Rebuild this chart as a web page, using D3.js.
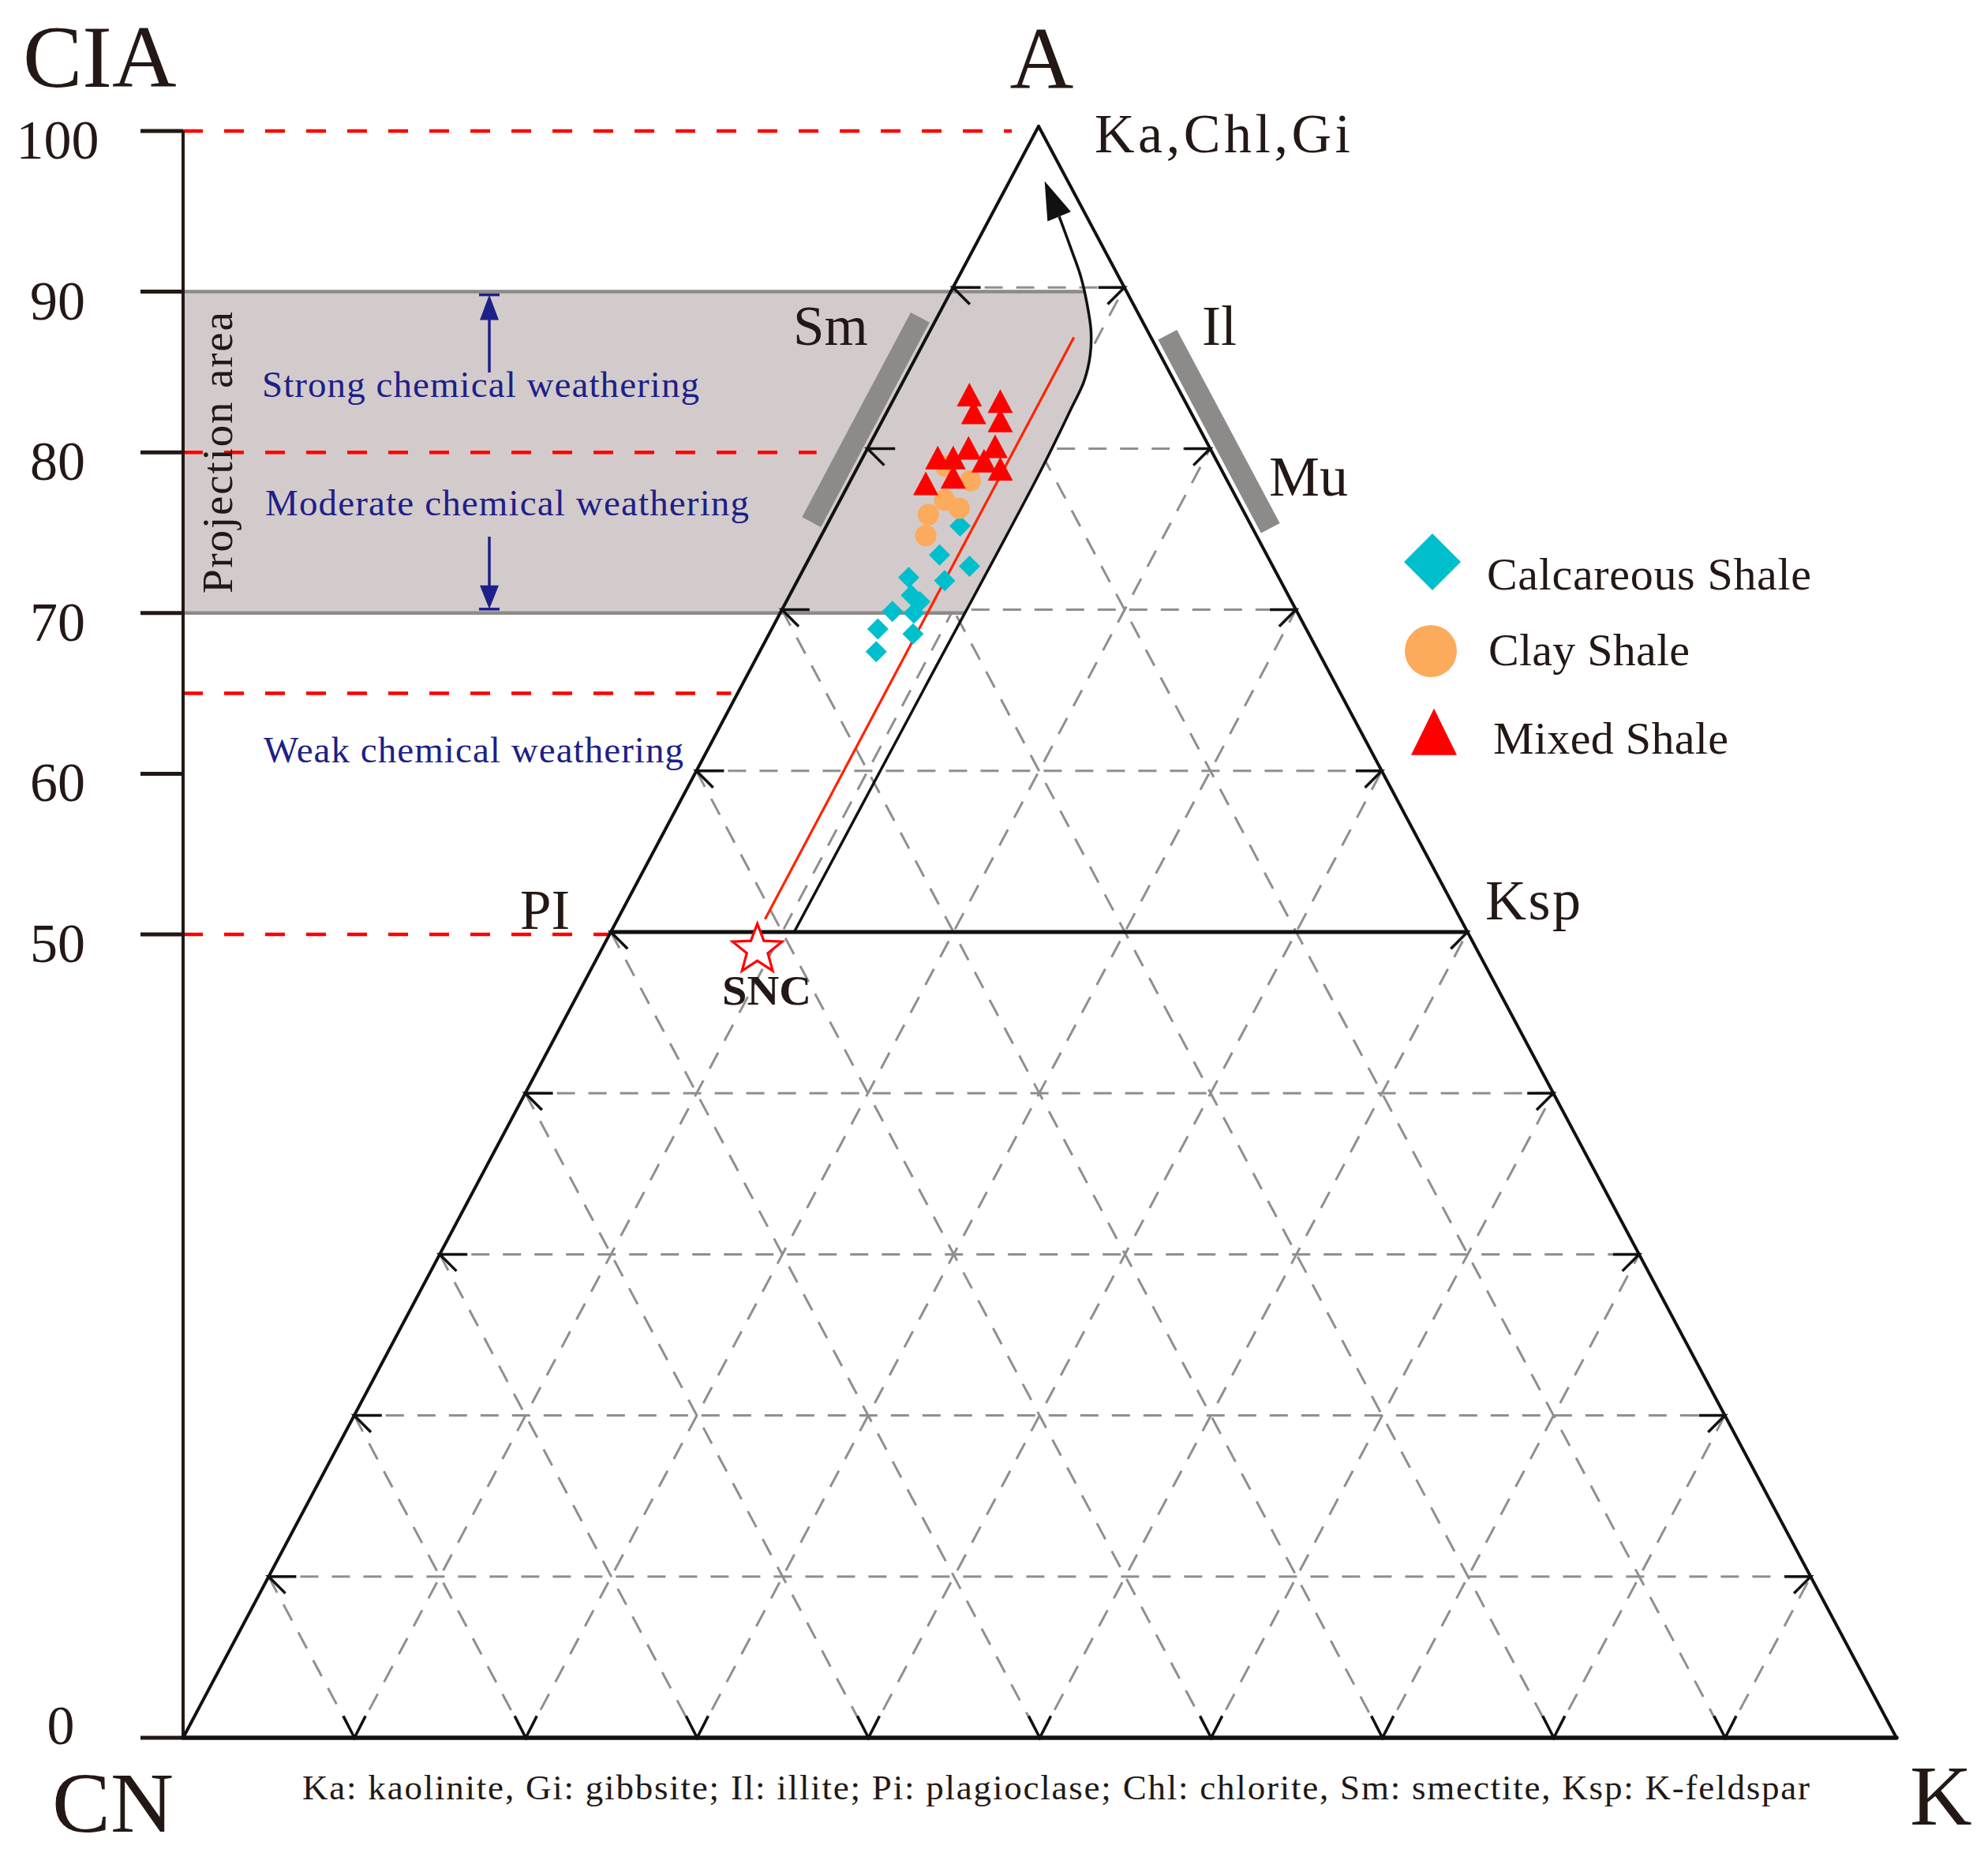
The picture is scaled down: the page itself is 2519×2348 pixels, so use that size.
<!DOCTYPE html>
<html>
<head>
<meta charset="utf-8">
<script src="https://cdn.jsdelivr.net/npm/d3@7"></script>
<style>
  html, body { margin: 0; padding: 0; background: #ffffff; }
  svg { display: block; }
</style>
</head>
<body>
<svg id="chart" width="2519" height="2348"></svg>
<script>
// ---------------- DATA ----------------
const ciaTicks = [100, 90, 80, 70, 60, 50, 0];
const redRefLevels = [100, 80, 65, 50];          // red dashed CIA guide lines
const gridLevels = [10, 20, 30, 40, 50, 60, 70, 80, 90];
const projectionBand = [70, 90];                  // shaded CIA band

// Calcareous Shale (A %, K %)
const calcA = [75.2, 73.4, 72.7, 71.8, 72.0, 70.9, 70.5, 69.8, 69.9, 68.8, 68.5, 67.4];
const calcK = [7.8, 7.5, 9.6, 8.6, 6.4, 7.1, 7.8, 7.8, 6.5, 6.2, 8.4, 6.8];
// Clay Shale
const clayA = [78.9, 78.0, 76.8, 76.3, 75.9, 74.6];
const clayK = [5.1, 7.0, 6.1, 7.2, 5.6, 6.1];
// Mixed Shale
const mixedA = [83.1, 82.0, 82.7, 81.5, 79.9, 79.8, 79.2, 79.2, 79.0, 78.5, 77.6, 78.0];
const mixedK = [4.4, 5.2, 6.4, 7.0, 7.5, 6.0, 4.5, 5.4, 7.3, 8.5, 4.6, 6.0];

const seriesNames = ["Calcareous Shale", "Clay Shale", "Mixed Shale"];
const seriesColors = ["#00bfcc", "#fcaa5c", "#ff0000"];

// predicted weathering trend (black curve) in (A %, K %)
const trendA = [50.0, 65.0, 78.5, 82.5, 84.2, 85.8, 87.3, 89.1, 90.7, 92.15, 94.4];
const trendK = [10.7, 10.75, 10.8, 10.65, 10.55, 10.1, 9.4, 8.25, 7.1, 5.9, 4.0];
const trendTip = [96.6, 2.05];
// red sample trend line (constant K)
const redTrendA = [50.8, 86.9];
const redTrendK = [8.6, 8.6];
// SNC star
const sncA = 48.9, sncK = 9.1;
// mineral bars (A % ranges along the edges)
const smRange = [75.0, 87.7];
const ilRange = [74.6, 86.6];

const vertexLabels = ["A", "CN", "K"];
const mineralLabels = ["Ka,Chl,Gi", "Sm", "Il", "Mu", "PI", "Ksp"];
const zoneLabels = ["Strong chemical weathering", "Moderate chemical weathering", "Weak chemical weathering"];
const caption = "Ka: kaolinite, Gi: gibbsite; Il: illite; Pi: plagioclase; Chl: chlorite, Sm: smectite, Ksp: K-feldspar";

// ---------------- SETUP ----------------
const FONT = "'Liberation Serif', 'Times New Roman', Times, serif";
const INK = "#231815";
const BLUE = "#1d2088";
const svg = d3.select("#chart");
const defs = svg.append("defs");

// CIA axis scale
const cia = d3.scaleLinear().domain([0, 100]).range([2202, 166]);
// ternary projection scales
const tAy = d3.scaleLinear().domain([0, 100]).range([2202, 160]);
const tAdx = d3.scaleLinear().domain([0, 100]).range([0, 1084]);
const tKx = d3.scaleLinear().domain([0, 100]).range([232, 2403]);
const tern = (a, k) => [tKx(k) + tAdx(a), tAy(a)];
const axisX = tKx(0);
const leftEdgeXAtY = y => tern(tAy.invert(y), 0)[0];

function seg(g, p, q) {
  return g.append("line").attr("x1", p[0]).attr("y1", p[1]).attr("x2", q[0]).attr("y2", q[1]);
}

// ---------------- GRID ----------------
const grid = svg.append("g").attr("fill", "none").attr("stroke", "#8f8f8f")
  .attr("stroke-width", 3).attr("stroke-dasharray", "23 17");
gridLevels.forEach(v => {
  seg(grid, tern(v, 0), tern(v, 100 - v));   // constant A
  seg(grid, tern(v, 0), tern(0, v));         // constant CN
  seg(grid, tern(0, v), tern(100 - v, v));   // constant K
});

// ---------------- PROJECTION AREA ----------------
const trendPts = trendA.map((a, i) => [a, trendK[i]]);
const trendLine = d3.line()
  .x(d => tern(d[0], d[1])[0]).y(d => tern(d[0], d[1])[1])
  .curve(d3.curveCatmullRom.alpha(0.5));
const dTrend = trendLine(trendPts);
const tFirst = tern(...trendPts[0]);
const tLast = tern(...trendPts[trendPts.length - 1]);
defs.append("clipPath").attr("id", "leftOfTrend").append("path")
  .attr("d", dTrend + `L${tLast[0]},${tLast[1] - 200}L0,${tLast[1] - 200}L0,${tFirst[1] + 60}L${tFirst[0]},${tFirst[1] + 60}Z`);

const shade = svg.append("g").attr("clip-path", "url(#leftOfTrend)");
shade.append("rect")
  .attr("x", axisX).attr("y", cia(projectionBand[1]))
  .attr("width", 1800).attr("height", cia(projectionBand[0]) - cia(projectionBand[1]))
  .attr("fill", "#d3cbcb");
projectionBand.forEach(v => {
  shade.append("line").attr("x1", axisX).attr("x2", axisX + 1800)
    .attr("y1", cia(v)).attr("y2", cia(v))
    .attr("stroke", "#8e8a8a").attr("stroke-width", 4.5);
});

// ---------------- RED DASHED CIA GUIDES ----------------
const redGap = {100: 34, 80: 62, 65: 8, 50: 0};
const red = svg.append("g").attr("stroke", "#ff0000").attr("stroke-width", 4.5)
  .attr("stroke-dasharray", "25 27");
redRefLevels.forEach(v => {
  const y = cia(v);
  const xEnd = (v === 100 ? tern(100, 0)[0] : leftEdgeXAtY(y)) - redGap[v];
  red.append("line").attr("x1", axisX).attr("x2", xEnd).attr("y1", y).attr("y2", y);
});

// ---------------- CIA AXIS ----------------
const ax = svg.append("g");
ax.append("line").attr("x1", axisX).attr("x2", axisX).attr("y1", cia(100)).attr("y2", cia(0))
  .attr("stroke", INK).attr("stroke-width", 4);
ciaTicks.forEach(v => {
  ax.append("line").attr("x1", axisX - 54).attr("x2", axisX).attr("y1", cia(v)).attr("y2", cia(v))
    .attr("stroke", INK).attr("stroke-width", 5);
  ax.append("text").attr("x", v === 0 ? 77 : 73).attr("y", cia(v) + (v === 0 ? 8 : 35))
    .attr("text-anchor", "middle").attr("font-family", FONT).attr("font-size", 70)
    .attr("fill", INK).text(v);
});
ax.append("text").attr("x", 29).attr("y", 110).attr("font-family", FONT)
  .attr("font-size", 113).attr("fill", INK).text("CIA");

// ---------------- TRIANGLE ----------------
const tri = svg.append("g").attr("stroke", "#111").attr("fill", "none").attr("stroke-linecap", "round");
seg(tri, tern(0, 0), tern(100, 0)).attr("stroke-width", 4);
seg(tri, tern(100, 0), tern(0, 100)).attr("stroke-width", 4);
seg(tri, tern(0, 0), tern(0, 100)).attr("stroke-width", 5.5);
seg(tri, tern(50, 0), tern(50, 50)).attr("stroke-width", 5);

// chevrons at the grid ends
const chev = svg.append("g").attr("stroke", "#111").attr("stroke-width", 3.5).attr("fill", "none");
const d45 = Math.SQRT1_2, c63 = Math.cos(63 * Math.PI / 180), s63 = Math.sin(63 * Math.PI / 180);
gridLevels.forEach(v => {
  const L = tern(v, 0);
  chev.append("path").attr("d", `M${L[0] + 35},${L[1]}L${L[0]},${L[1]}L${L[0] + 30 * d45},${L[1] + 30 * d45}`);
  const R = tern(v, 100 - v);
  chev.append("path").attr("d", `M${R[0] - 33},${R[1]}L${R[0]},${R[1]}L${R[0] - 30 * d45},${R[1] + 30 * d45}`);
  const B = tern(0, v);
  chev.append("path").attr("d", `M${B[0] - 31 * c63},${B[1] - 31 * s63}L${B[0]},${B[1]}L${B[0] + 31 * c63},${B[1] - 31 * s63}`);
});

// ---------------- MINERAL BARS ----------------
function edgeBar(p, q, normal, off) {
  const a = [p[0] + normal[0] * off, p[1] + normal[1] * off];
  const b = [q[0] + normal[0] * off, q[1] + normal[1] * off];
  svg.append("line").attr("x1", a[0]).attr("y1", a[1]).attr("x2", b[0]).attr("y2", b[1])
    .attr("stroke", "#8d8a8a").attr("stroke-width", 27).attr("stroke-linecap", "butt");
}
(function () {
  const c = tern(0, 0), A = tern(100, 0), K = tern(0, 100);
  const lx = A[0] - c[0], ly = A[1] - c[1], ll = Math.hypot(lx, ly);
  const rx = K[0] - A[0], ry = K[1] - A[1], rl = Math.hypot(rx, ry);
  // outward normals: left edge -> up-left, right edge -> up-right
  edgeBar(tern(smRange[0], 0), tern(smRange[1], 0), [ly / ll, -lx / ll], 19);
  edgeBar(tern(ilRange[0], 100 - ilRange[0]), tern(ilRange[1], 100 - ilRange[1]), [ry / rl, -rx / rl], 20);
})();

// ---------------- TRENDS ----------------
svg.append("path").attr("d", dTrend).attr("fill", "none").attr("stroke", "#111").attr("stroke-width", 3.5);
(function () {
  const tip = tern(...trendTip);
  const ux = tip[0] - tLast[0], uy = tip[1] - tLast[1], ul = Math.hypot(ux, uy);
  const nx = -uy / ul, ny = ux / ul;
  svg.append("path")
    .attr("d", `M${tip[0]},${tip[1]}L${tLast[0] + nx * 16},${tLast[1] + ny * 16}L${tLast[0] - nx * 16},${tLast[1] - ny * 16}Z`)
    .attr("fill", "#111");
})();
svg.append("path")
  .attr("d", d3.line()(redTrendA.map((a, i) => tern(a, redTrendK[i]))))
  .attr("stroke", "#ff2200").attr("stroke-width", 3.2).attr("fill", "none");

// ---------------- POINTS ----------------
const diamondPath = h => `M0,${-h}L${h},0L0,${h}L${-h},0Z`;
const trianglePath = (w, h) => `M0,${-h * 2 / 3}L${w / 2},${h / 3}L${-w / 2},${h / 3}Z`;
const pts = svg.append("g");
calcA.forEach((a, i) => {
  const p = tern(a, calcK[i]);
  pts.append("path").attr("d", diamondPath(13.5)).attr("transform", `translate(${p[0]},${p[1]})`).attr("fill", seriesColors[0]);
});
clayA.forEach((a, i) => {
  const p = tern(a, clayK[i]);
  pts.append("circle").attr("cx", p[0]).attr("cy", p[1]).attr("r", 13.5).attr("fill", seriesColors[1]);
});
mixedA.forEach((a, i) => {
  const p = tern(a, mixedK[i]);
  pts.append("path").attr("d", trianglePath(32, 30)).attr("transform", `translate(${p[0]},${p[1]})`).attr("fill", seriesColors[2]);
});

// SNC star
(function () {
  const c = tern(sncA, sncK);
  const star = d3.range(10).map(i => {
    const r = i % 2 === 0 ? 33 : 14;
    const ang = -Math.PI / 2 + i * Math.PI / 5;
    return [c[0] + r * Math.cos(ang), c[1] + r * Math.sin(ang)];
  });
  svg.append("path").attr("d", d3.line()(star) + "Z").attr("fill", "#ffffff")
    .attr("stroke", "#ff0000").attr("stroke-width", 3.2).attr("stroke-linejoin", "miter");
  svg.append("text").attr("x", 915).attr("y", 1273).attr("font-family", FONT).attr("font-weight", "bold")
    .attr("font-size", 53).attr("textLength", 113).attr("lengthAdjust", "spacingAndGlyphs")
    .attr("fill", INK).text("SNC");
})();

// ---------------- LABELS ----------------
function label(t, x, y, size, opts = {}) {
  const el = svg.append("text").attr("x", x).attr("y", y).attr("font-family", FONT)
    .attr("font-size", size).attr("fill", opts.fill || INK).text(t);
  if (opts.anchor) el.attr("text-anchor", opts.anchor);
  if (opts.len) el.attr("textLength", opts.len).attr("lengthAdjust", opts.adjust || "spacing");
  return el;
}
label(vertexLabels[0], 1320, 112, 112, {anchor: "middle"});
label(vertexLabels[1], 66, 2321, 107, {len: 154, adjust: "spacingAndGlyphs"});
label(vertexLabels[2], 2420, 2312, 109);
label(mineralLabels[0], 1387, 193, 70, {len: 324});
label(mineralLabels[1], 1005, 437, 71);
label(mineralLabels[2], 1523, 437, 72);
label(mineralLabels[3], 1608, 628, 72);
label(mineralLabels[4], 659, 1177, 71);
label(mineralLabels[5], 1882, 1165, 72, {len: 121});
label(caption, 383, 2280, 45, {len: 1910});

// zone annotations
label(zoneLabels[0], 332, 503, 47, {fill: BLUE, len: 554});
label(zoneLabels[1], 336, 653, 47, {fill: BLUE, len: 613});
label(zoneLabels[2], 334, 966, 47, {fill: BLUE, len: 532});
svg.append("text").attr("transform", "translate(294,752) rotate(-90)")
  .attr("font-family", FONT).attr("font-size", 55).attr("fill", INK)
  .attr("textLength", 357).attr("lengthAdjust", "spacing").text("Projection area");

// blue arrows
(function () {
  const x = 620, topY = cia(projectionBand[1]) + 4, botY = cia(projectionBand[0]) - 5;
  const g = svg.append("g").attr("stroke", BLUE).attr("fill", BLUE);
  g.append("line").attr("x1", x).attr("x2", x).attr("y1", 472).attr("y2", topY + 30).attr("stroke-width", 3.5);
  g.append("path").attr("d", `M${x},${topY}L${x + 12},${topY + 32}L${x - 12},${topY + 32}Z`).attr("stroke", "none");
  g.append("line").attr("x1", x - 13).attr("x2", x + 13).attr("y1", topY).attr("y2", topY).attr("stroke-width", 3.5);
  g.append("line").attr("x1", x).attr("x2", x).attr("y1", 680).attr("y2", botY - 28).attr("stroke-width", 3.5);
  g.append("path").attr("d", `M${x},${botY}L${x + 12},${botY - 30}L${x - 12},${botY - 30}Z`).attr("stroke", "none");
  g.append("line").attr("x1", x - 13).attr("x2", x + 13).attr("y1", botY).attr("y2", botY).attr("stroke-width", 3.5);
})();

// ---------------- LEGEND ----------------
const legY = [712, 825, 937];
const legTextY = [747, 843, 955];
const legTextX = [1884, 1886, 1892];
const legLen = [411, 255, 298];
const lg = svg.append("g");
lg.append("path").attr("d", diamondPath(36)).attr("transform", `translate(1815,${legY[0]})`).attr("fill", seriesColors[0]);
lg.append("circle").attr("cx", 1813).attr("cy", legY[1]).attr("r", 33).attr("fill", seriesColors[1]);
lg.append("path").attr("d", trianglePath(58, 59)).attr("transform", `translate(1817,${legY[2]})`).attr("fill", seriesColors[2]);
seriesNames.forEach((n, i) => label(n, legTextX[i], legTextY[i], 58, {len: legLen[i]}));
</script>
</body>
</html>
